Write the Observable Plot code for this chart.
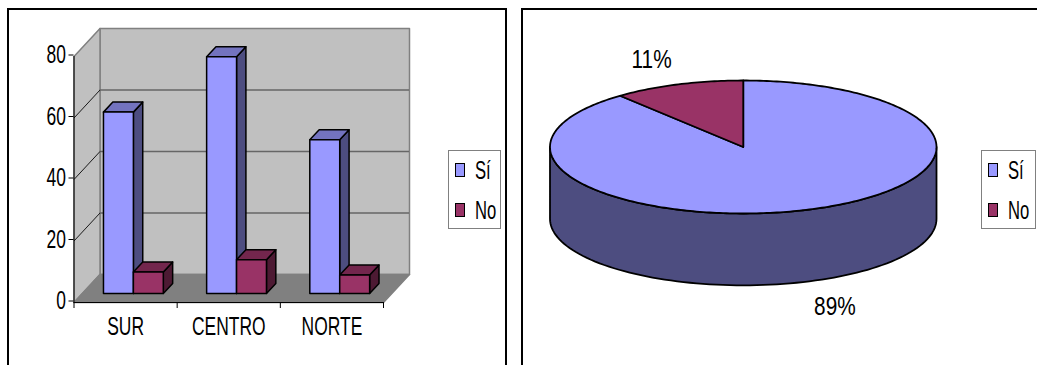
<!DOCTYPE html>
<html>
<head>
<meta charset="utf-8">
<script src="https://cdn.jsdelivr.net/npm/d3@7"></script>
<script src="https://cdn.jsdelivr.net/npm/@observablehq/plot@0.6"></script>
<style>
  html, body { margin: 0; background: #fff; overflow: hidden; }
  #page { position: relative; width: 1037px; height: 365px; overflow: hidden; font-family: "Liberation Sans", Arial, sans-serif; }
  #page svg { position: absolute; left: 0; top: 0; }
  .panel { position: absolute; top: 8px; height: 420px; border: 2px solid #000; box-sizing: border-box; }
  .legend { position: absolute; top: 150px; height: 79px; background: #fff; border: 1px solid #808080; box-sizing: border-box; }
  .row { position: absolute; left: 6px; display: flex; align-items: center; color: #000; font-size: 26px; line-height: 26px; white-space: nowrap; }
  .row i { display: block; width: 8px; height: 12px; border: 1.5px solid #000; margin-right: 10px; }
  .row span { display: inline-block; transform: scaleX(0.64); transform-origin: left center; }
</style>
</head>
<body>
<div id="page"></div>
<script>
// Responses by zone
const zones = ["SUR", "CENTRO", "NORTE"];
const siValues = [59, 77, 50];
const noValues = [7, 11, 6];
const yTicks = [0, 20, 40, 60, 80];

// Overall responses
const pieSeries = ["Sí", "No"];
const pieShares = [89, 11];

// Series colours: front face, top face, side face
const siColors = ["#9999ff", "#7373bf", "#4d4d80"];
const noColors = ["#993366", "#73264d", "#4d1a33"];

const page = document.getElementById("page");
const fontFamily = '"Liberation Sans", Arial, sans-serif';

function addPanel(left, width) {
  const el = document.createElement("div");
  el.className = "panel";
  el.style.left = left + "px";
  el.style.width = width + "px";
  page.appendChild(el);
}

function addLegend(left, width) {
  const box = document.createElement("div");
  box.className = "legend";
  box.style.left = left + "px";
  box.style.width = width + "px";
  [[pieSeries[0], siColors[0], 6], [pieSeries[1], noColors[0], 46]].forEach(([name, color, top]) => {
    const row = document.createElement("div");
    row.className = "row";
    row.style.top = top + "px";
    const swatch = document.createElement("i");
    swatch.style.background = color;
    const label = document.createElement("span");
    label.textContent = name;
    row.append(swatch, label);
    box.appendChild(row);
  });
  page.appendChild(box);
}

// Oblique projection of the chart box: depth runs 0 (front) to 1 (back wall)
const depthX = 0.252;
const depthY = 9.1;
const at = (x, v, d) => ({x: x + d * depthX, y: v + d * depthY});

function polygon(list, id, fill, pts) {
  pts.concat(pts[0]).forEach((p) => list.push({id, fill, x: p.x, y: p.y}));
}

// Box walls and floor
const walls = [];
polygon(walls, "back", "#c0c0c0", [at(0, 0, 1), at(3, 0, 1), at(3, 80, 1), at(0, 80, 1)]);
polygon(walls, "left", "#c0c0c0", [at(0, 0, 0), at(0, 0, 1), at(0, 80, 1), at(0, 80, 0)]);
polygon(walls, "floor", "#808080", [at(0, 0, 0), at(3, 0, 0), at(3, 0, 1), at(0, 0, 1)]);

// Columns
const barWidth = 0.29;
const barGap = 0.205;
const d0 = 0.32, d1 = 0.68;
const bars = [];
function column(x, v, colors, id) {
  const x2 = x + barWidth;
  polygon(bars, id + "-side", colors[2], [at(x2, 0, d0), at(x2, 0, d1), at(x2, v, d1), at(x2, v, d0)]);
  polygon(bars, id + "-top", colors[1], [at(x, v, d0), at(x2, v, d0), at(x2, v, d1), at(x, v, d1)]);
  polygon(bars, id + "-front", colors[0], [at(x, 0, d0), at(x2, 0, d0), at(x2, v, d0), at(x, v, d0)]);
}
zones.forEach((zone, i) => {
  column(i + barGap, siValues[i], siColors, zone + "-si");
  column(i + barGap + barWidth, noValues[i], noColors, zone + "-no");
});

const gridValues = yTicks.slice(1, -1);
const columns = Plot.plot({
  width: 1037, height: 365,
  marginLeft: 73.5, marginRight: 0, marginTop: 0, marginBottom: 63,
  style: {background: "transparent", fontFamily},
  x: {type: "linear", domain: [0, 3], range: [73.5, 383], axis: null},
  y: {domain: [0, 80], range: [302, 56], axis: null},
  color: {type: "identity"},
  marks: [
    Plot.line(walls, {x: "x", y: "y", z: "id", fill: "fill", stroke: "#808080", strokeWidth: 1.5, curve: "linear"}),
    Plot.ruleY(gridValues, {y: (v) => v + depthY, x1: depthX, x2: 3 + depthX, stroke: "#666666", strokeWidth: 1.5}),
    Plot.link(gridValues, {x1: 0, y1: (v) => v, x2: depthX, y2: (v) => v + depthY, stroke: "#1a1a1a", strokeWidth: 1}),
    Plot.line(bars, {x: "x", y: "y", z: "id", fill: "fill", stroke: "#000", strokeWidth: 1.5, curve: "linear"}),
    Plot.ruleX([0], {y1: 0, y2: 80, stroke: "#000"}),
    Plot.ruleY([0], {x1: 0, x2: 3, stroke: "#000"}),
    Plot.axisY({ticks: yTicks, tickSize: 5, tickPadding: 3, fontSize: 26, dy: -1.5, stroke: "#000", fill: "#000", tickFormat: (d) => d, label: null}),
    Plot.axisX({ticks: d3.range(4), tickSize: 6, tickFormat: () => "", stroke: "#000", label: null}),
    Plot.axisX({ticks: zones.map((_, i) => i + 0.5), tickSize: 0, tickPadding: 14, fontSize: 26, fill: "#000", tickFormat: (d) => zones[Math.floor(d)], label: null})
  ]
});

// Pie on an elliptical disc; x and y in radii
const pieDepth = 1.08;
const toPoint = (deg, drop = 0) => ({x: Math.sin(deg * Math.PI / 180), y: Math.cos(deg * Math.PI / 180) - drop});
const arcs = d3.pie().sort(null).value((d) => d)(pieShares);
const pieFaces = [];
const topRim = d3.range(90, 271, 2).map((a) => toPoint(a));
const bottomRim = d3.range(270, 89, -2).map((a) => toPoint(a, pieDepth));
polygon(pieFaces, "rim", siColors[2], topRim.concat(bottomRim));
arcs.forEach((a, i) => {
  const start = a.startAngle * 180 / Math.PI;
  const end = a.endAngle * 180 / Math.PI;
  const sweep = d3.range(start, end, 1).concat(end).map((d) => toPoint(d));
  polygon(pieFaces, "slice" + i, i === 0 ? siColors[0] : noColors[0], [{x: 0, y: 0}, ...sweep]);
});
const pieLabels = arcs.map((a, i) => {
  const mid = (a.startAngle + a.endAngle) / 2 * 180 / Math.PI;
  const p = toPoint(mid);
  const front = p.y < 0;
  return {x: p.x * 1.4, y: p.y * 1.4 - (front ? pieDepth : 0), text: pieShares[i] + "%"};
});

const pie = Plot.plot({
  width: 1037, height: 365,
  margin: 0,
  style: {background: "transparent", fontFamily},
  x: {domain: [-1, 1], range: [549.5, 936], axis: null},
  y: {domain: [-1, 1], range: [213, 80], axis: null},
  color: {type: "identity"},
  marks: [
    Plot.line(pieFaces, {x: "x", y: "y", z: "id", fill: "fill", stroke: "#000", strokeWidth: 1.8, curve: "linear"}),
    Plot.text(pieLabels, {x: "x", y: "y", text: "text", fontSize: 26, fill: "#000"})
  ]
});

addPanel(7, 500);
addPanel(521, 540);
page.append(columns, pie);
addLegend(448, 53);
addLegend(981, 55);

// The chart text is set in a condensed cut of the face
function condense(svg, factor) {
  d3.select(svg).selectAll("text").each(function () {
    const len = this.getComputedTextLength();
    if (len > 0) {
      this.setAttribute("textLength", len * factor);
      this.setAttribute("lengthAdjust", "spacingAndGlyphs");
    }
  });
}
condense(columns, 0.67);
condense(pie, 0.8);
</script>
</body>
</html>
